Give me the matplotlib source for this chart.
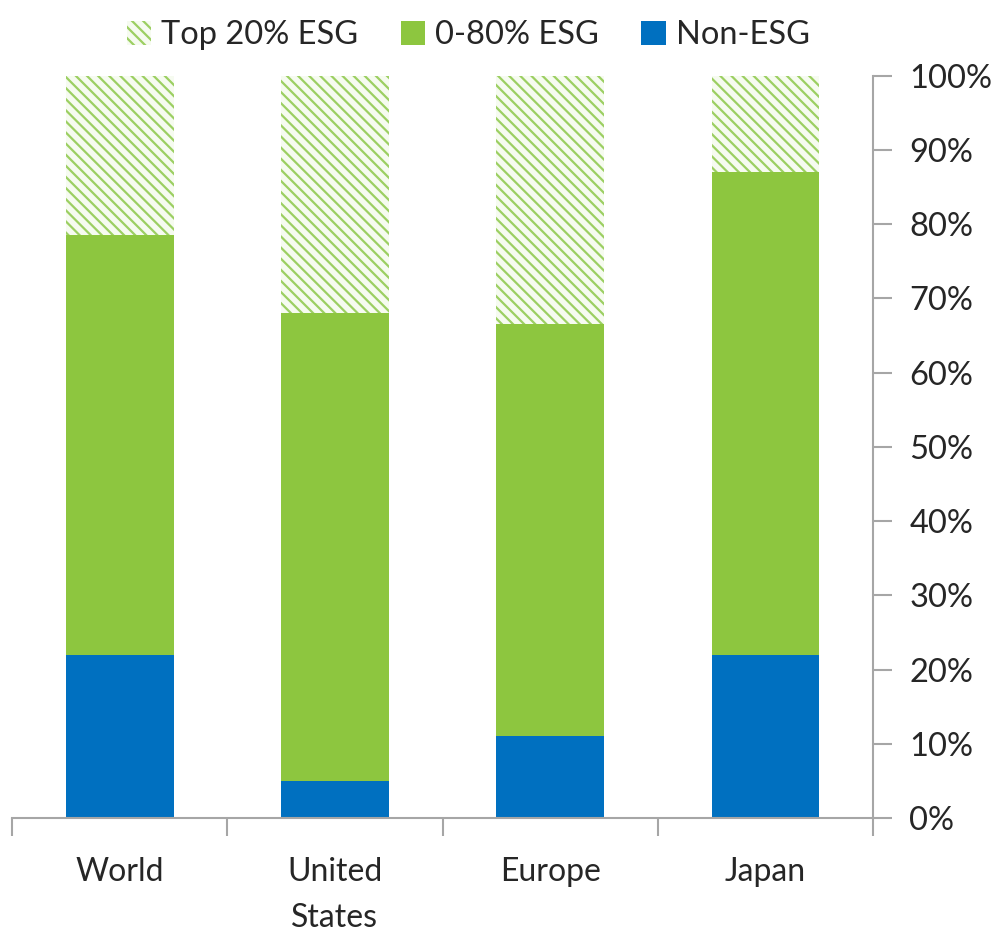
import matplotlib.pyplot as plt
import numpy as np

# udzialy w procentach dla kazdego regionu
regiony = ['World', 'United\nStates', 'Europe', 'Japan']
non_esg = [22, 5, 11, 22]
esg_0_80 = [56.5, 63, 55.5, 65]
top_20 = [21.5, 32, 33.5, 13]

niebieski = '#0070c0'
zielony = '#8dc63f'
szary = '#a6a6a6'

plt.rcParams['font.family'] = ['Lato', 'DejaVu Sans']
plt.rcParams['hatch.linewidth'] = 1.6

fig = plt.figure(figsize=(10.07, 9.36), dpi=100)
ax = fig.add_axes([0.012, 0.126, 0.855, 0.793])

x = np.arange(len(regiony))
dol2 = np.array(non_esg) + np.array(esg_0_80)

ax.bar(x, non_esg, width=0.5, color=niebieski, linewidth=0, label='Non-ESG')
ax.bar(x, esg_0_80, width=0.5, bottom=non_esg, color=zielony, linewidth=0,
       label='0-80% ESG')
ax.bar(x, top_20, width=0.5, bottom=dol2, facecolor='#f6fbf0',
       edgecolor='#9ccf62', hatch='\\\\\\', linewidth=0, label='Top 20% ESG')

ax.set_xlim(-0.5, 3.5)
ax.set_ylim(0, 100)

# os y po prawej stronie
ax.yaxis.tick_right()
ax.set_yticks(np.arange(0, 101, 10))
ax.set_yticklabels([f'{v}%' for v in range(0, 101, 10)])
ax.tick_params(axis='y', length=14, width=1.5, color=szary, pad=12,
               labelsize=23.5, labelcolor='#262626')

ax.set_xticks(x)
ax.set_xticklabels(regiony, linespacing=1.65)
ax.set_xticks(np.arange(-0.5, 4, 1), minor=True)
ax.tick_params(axis='x', which='major', length=0, pad=28, labelsize=23,
               labelcolor='#262626')
ax.tick_params(axis='x', which='minor', length=13, width=1.5, color=szary)

for s in ['top', 'left']:
    ax.spines[s].set_visible(False)
ax.spines['right'].set_color(szary)
ax.spines['bottom'].set_color(szary)
ax.spines['right'].set_linewidth(1.5)
ax.spines['bottom'].set_linewidth(1.5)

uchwyty, etykiety = ax.get_legend_handles_labels()
fig.legend(uchwyty[::-1], etykiety[::-1], loc='upper center',
           bbox_to_anchor=(0.465, 1.01), ncol=3, frameon=False, fontsize=23.5,
           handlelength=0.75, handleheight=0.75, handletextpad=0.3,
           columnspacing=1.3, labelcolor='#262626')

plt.savefig('out.png', dpi=100)
